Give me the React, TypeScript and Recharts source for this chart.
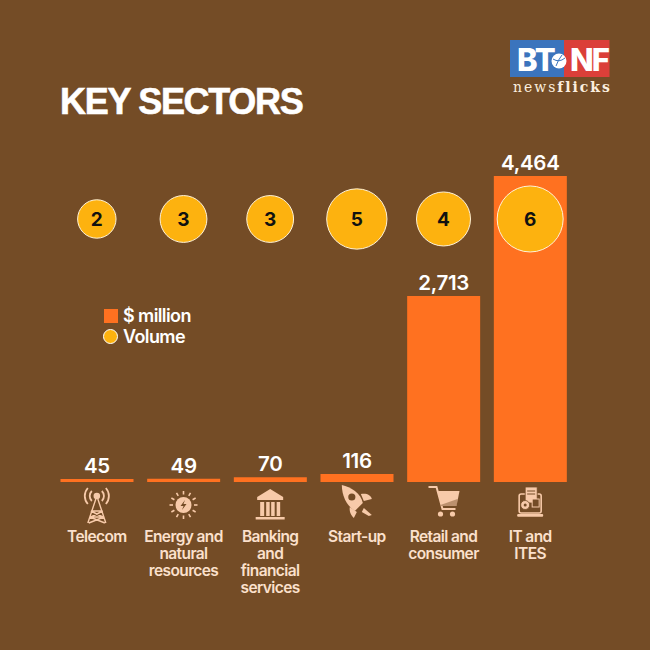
import React from 'react';
import { ComposedChart, Bar, Scatter, XAxis, YAxis, ZAxis, LabelList, Legend } from 'recharts';

const categories = ['Telecom', 'Energy and natural resources', 'Banking and financial services', 'Start-up', 'Retail and consumer', 'IT and ITES'];
const tickLines = [['Telecom'], ['Energy and', 'natural', 'resources'], ['Banking', 'and', 'financial', 'services'], ['Start-up'], ['Retail and', 'consumer'], ['IT and', 'ITES']];
const millions = [45, 49, 70, 116, 2713, 4464];
const volumes = [2, 3, 3, 5, 4, 6];
const BUBBLE_LEVEL = 3837;

const BROWN = '#744c26';
const ORANGE = '#ff7120';
const GOLD = '#fdb20f';
const PEACH = '#f7caa9';
const LABEL = '#fbe0cc';
const FONT = 'Inter, "Liberation Sans", sans-serif';

const table = categories.map((c, i) => ({ category: c, millions: millions[i], volume: volumes[i], level: BUBBLE_LEVEL }));

function Icon({ kind }: { kind: number }) {
  const s = { stroke: PEACH, strokeWidth: 1.4, fill: 'none' } as const;
  if (kind === 0) return (
    <g {...s}>
      <path d="M-9 35 L-1 11 M9 35 L1 11 M-5 23 H5 M-7 29 H7 M-6 23 L6 29 M6 23 L-6 29 M-8 35 L7 29 M8 35 L-7 29" />
      <circle cx={0} cy={8} r={2.6} fill={PEACH} />
      <path d="M-5 13 A7 7 0 0 1 -5 3 M5 13 A7 7 0 0 0 5 3 M-9 16 A12 12 0 0 1 -9 0 M9 16 A12 12 0 0 0 9 0" strokeWidth={1.8} />
    </g>
  );
  if (kind === 1) {
    const rays = [0, 30, 60, 90, 120, 150, 180, 210, 240, 270, 300, 330];
    return (
      <g transform="translate(0,17)">
        <circle r={8} fill={PEACH} />
        <path d="M1.5 -5 L-3 1 H0 L-1.5 5 L3 -1 H0 Z" fill={BROWN} />
        {rays.map((a) => <line key={a} x1={0} y1={-10.5} x2={0} y2={-14} transform={`rotate(${a})`} stroke={PEACH} strokeWidth={1.6} />)}
      </g>
    );
  }
  if (kind === 2) return (
    <g fill={PEACH}>
      <path d="M0 -1 L13 7 V10 H-13 V7 Z" transform="translate(0,2)" />
      <rect x={-10} y={14} width={4} height={14} />
      <rect x={-4} y={14} width={3.5} height={14} />
      <rect x={1} y={14} width={3.5} height={14} />
      <rect x={6.5} y={14} width={3.5} height={14} />
      <rect x={-14.5} y={29} width={29} height={2.5} />
    </g>
  );
  if (kind === 3) return (
    <g fill={PEACH}>
      <path d="M-15 -3 C-6 -1 4 5 6 15 L-2 23 C-10 18 -15 8 -15 -3 Z" />
      <circle cx={-5} cy={9} r={3.6} fill={BROWN} />
      <path d="M4 6 C10 5 14 7 15 11 L7 13 Z M-7 19 C-8 24 -5 28 -3 30 L0 24 Z" />
      <path d="M7 20 L15 27 L12 28 L5 24 Z" />
    </g>
  );
  if (kind === 4) return (
    <g>
      <path d="M-15 -1 H-7 L-1 21 H12" stroke={PEACH} strokeWidth={2} fill="none" />
      <path d="M-5.5 3 H16 L13 18 H-2 Z" fill={PEACH} />
      <path d="M-3 17 L14 11 V14 L13 18 H-2 Z" fill={BROWN} opacity={0.45} />
      <circle cx={-3} cy={26} r={2.6} fill={PEACH} />
      <circle cx={9} cy={26} r={2.6} fill={PEACH} />
    </g>
  );
  return (
    <g>
      <rect x={-11} y={6} width={22} height={19} rx={2} fill="none" stroke={PEACH} strokeWidth={1.6} />
      <rect x={-5} y={-1} width={12} height={16} fill={PEACH} stroke={BROWN} strokeWidth={0.8} />
      <path d="M-3 3 H5 M-3 6 H5" stroke={BROWN} strokeWidth={1} />
      <rect x={2} y={11} width={7} height={8} fill={BROWN} stroke={PEACH} strokeWidth={1} />
      <circle cx={-5} cy={17} r={4.5} fill={PEACH} stroke={BROWN} strokeWidth={0.8} />
      <circle cx={-5} cy={17} r={1.5} fill={BROWN} />
      <rect x={-13} y={26} width={26} height={2.8} rx={1} fill={PEACH} />
    </g>
  );
}

function CategoryTick({ x, payload, index }: any) {
  const i = index ?? categories.indexOf(payload.value);
  return (
    <g>
      <g transform={`translate(${x},488)`}><Icon kind={i} /></g>
      <text x={x} textAnchor="middle" fill={LABEL} fontFamily={FONT} fontSize={15.5} fontWeight={600} letterSpacing={-0.6}>
        {tickLines[i].map((l, k) => <tspan key={k} x={x} y={541.5 + k * 17.3}>{l}</tspan>)}
      </text>
    </g>
  );
}

function LegendBox() {
  const row = { display: 'flex', alignItems: 'center', height: 21, color: '#fff', fontFamily: FONT, fontSize: 18, fontWeight: 600, letterSpacing: -0.6 } as const;
  return (
    <div>
      <div style={row}>
        <span style={{ width: 14, height: 14, background: ORANGE, marginRight: 5, marginLeft: 1 }} />$ million
      </div>
      <div style={row}>
        <span style={{ width: 13, height: 13, borderRadius: '50%', background: GOLD, border: '1px solid #fff', marginRight: 5 }} />Volume
      </div>
    </div>
  );
}

function Logo() {
  return (
    <svg width={650} height={130} style={{ position: 'absolute', left: 0, top: 0 }}>
      <rect x={510} y={40} width={54} height={37} fill="#3b74bd" />
      <rect x={564} y={40} width={45.5} height={37} fill="#db3f39" />
      <text x={517} y={71} fill="#fff" fontFamily={FONT} fontWeight={800} fontSize={31} letterSpacing={-1}>BT</text>
      <text x={570} y={71} fill="#fff" fontFamily={FONT} fontWeight={800} fontSize={31} letterSpacing={-2}>NF</text>
      <circle cx={559} cy={61} r={7.5} fill="#fff" />
      <path d="M553 59 Q559 63 565 58 M556 66 Q558 60 562 55" stroke="#3b74bd" strokeWidth={1} fill="none" />
      <text x={513} y={92} fill="#fbeede" fontFamily='"DejaVu Serif", serif' fontSize={14} letterSpacing={1.95}>news<tspan fontWeight={700}>flicks</tspan></text>
      <text x={60} y={114} fill="#fff" stroke="#fff" strokeWidth={0.6} fontFamily='"Liberation Sans", sans-serif' fontWeight={700} fontSize={36} letterSpacing={-1.3}>KEY SECTORS</text>
    </svg>
  );
}

export default function App() {
  return (
    <div style={{ position: 'absolute', left: 0, top: 0, width: 650, height: 650, background: BROWN, overflow: 'hidden' }}>
      <ComposedChart width={650} height={650} data={table} margin={{ top: 176, right: 76.5, bottom: 0, left: 53.5 }}>
        <XAxis dataKey="category" type="category" height={168} axisLine={false} tickLine={false} interval={0} tick={<CategoryTick />} />
        <YAxis hide domain={[0, 4464]} />
        <ZAxis dataKey="volume" domain={[2, 6]} range={[1158, 3421]} />
        <Bar dataKey="millions" name="$ million" fill={ORANGE} barSize={73} isAnimationActive={false}>
          <LabelList dataKey="millions" position="top" offset={6} fill="#fff" fontFamily={FONT} fontSize={20.5} fontWeight={600} letterSpacing={-0.3} formatter={(v: any) => Number(v).toLocaleString('en-US')} />
        </Bar>
        <Scatter dataKey="level" name="Volume" fill={GOLD} stroke="#fff2d8" strokeWidth={1} isAnimationActive={false}>
          <LabelList dataKey="volume" position="center" fill="#111" stroke="none" fontFamily={FONT} fontSize={19} fontWeight={700} />
        </Scatter>
        <Legend layout="vertical" align="center" verticalAlign="middle" content={<LegendBox />} wrapperStyle={{ left: 103, top: 305, width: 110 }} />
      </ComposedChart>
      <Logo />
    </div>
  );
}
